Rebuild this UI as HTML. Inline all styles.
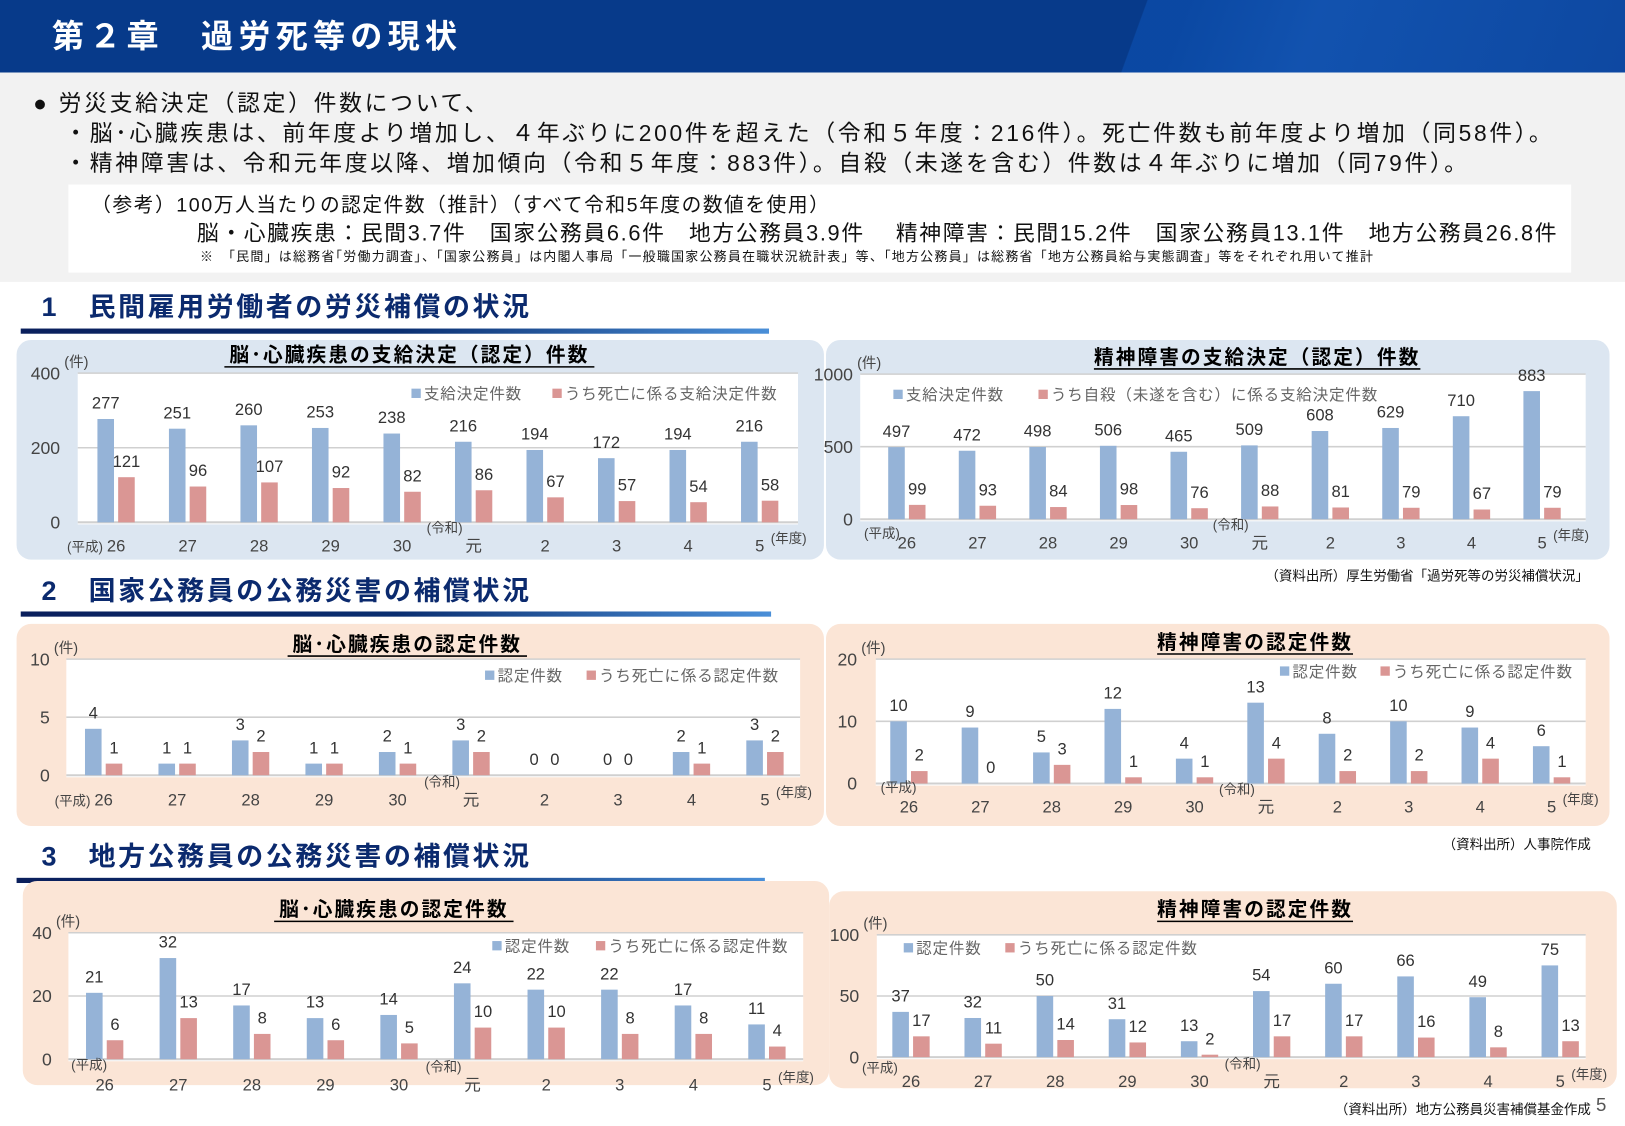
<!DOCTYPE html>
<html><head><meta charset="utf-8"><style>
html,body{margin:0;padding:0;width:1625px;height:1125px;overflow:hidden;background:#fff}
#w{position:absolute;left:0;top:0;width:1568px;height:1086px;transform:scale(1.0364,1.0364);transform-origin:0 0;font-family:"Liberation Sans","Noto Sans CJK JP",sans-serif}
.t{position:absolute;white-space:nowrap}
</style></head><body><div id="w">
<div style="position:absolute;left:0;top:0;width:1568px;height:70px;background:#073a8a"></div>
<div style="position:absolute;left:0;top:0;width:1568px;height:70px;background:linear-gradient(110deg,transparent 0,transparent 1040px,#0b4aa6 1041px,#0b4aa6 1080px,#1355b3 1200px,#0d47a0 1568px);opacity:0.9"></div>
<div class="t" style="left:50px;top:10px;font-size:31px;font-weight:bold;color:#fff;letter-spacing:5px">第２章　過労死等の現状</div>
<div style="position:absolute;left:0;top:70px;width:1568px;height:202px;background:#f2f2f2"></div>
<div class="t" style="left:32px;top:82px;font-size:22px;color:#111;letter-spacing:2.6px">●  労災支給決定（認定）件数について、</div>
<div class="t" style="left:62px;top:111px;font-size:22px;color:#111;letter-spacing:2.6px">・脳･心臓疾患は、前年度より増加し、４年ぶりに200件を超えた（令和５年度：216件）。死亡件数も前年度より増加（同58件）。</div>
<div class="t" style="left:62px;top:140px;font-size:22px;color:#111;letter-spacing:2.6px">・精神障害は、令和元年度以降、増加傾向（令和５年度：883件）。自殺（未遂を含む）件数は４年ぶりに増加（同79件）。</div>
<div style="position:absolute;left:66px;top:178px;width:1450px;height:85px;background:#fff"></div>
<div class="t" style="left:88px;top:183px;font-size:19px;color:#111;letter-spacing:1.5px">（参考）100万人当たりの認定件数（推計）（すべて令和5年度の数値を使用）</div>
<div class="t" style="left:190px;top:209px;font-size:21px;color:#111;letter-spacing:1.6px">脳・心臓疾患：民間3.7件　国家公務員6.6件　地方公務員3.9件　 精神障害：民間15.2件　国家公務員13.1件　地方公務員26.8件</div>
<div class="t" style="left:193px;top:237px;font-size:12.5px;color:#111;letter-spacing:1.2px">※　「民間」は総務省｢労働力調査｣、「国家公務員」は内閣人事局「一般職国家公務員在職状況統計表」等、「地方公務員」は総務省「地方公務員給与実態調査」等をそれぞれ用いて推計</div>
<div class="t" style="left:40px;top:276px;font-size:26px;font-weight:bold;color:#0b2a6e;letter-spacing:2.5px">1　民間雇用労働者の労災補償の状況</div>
<div style="position:absolute;left:20px;top:317px;width:722px;height:5px;background:linear-gradient(90deg,#0a1f5c,#0a2e70 50%,#4a8fd8)"></div>
<div class="t" style="left:40px;top:550px;font-size:26px;font-weight:bold;color:#0b2a6e;letter-spacing:2.5px">2　国家公務員の公務災害の補償状況</div>
<div style="position:absolute;left:20px;top:590px;width:724px;height:5px;background:linear-gradient(90deg,#0a1f5c,#0a2e70 50%,#4a8fd8)"></div>
<div class="t" style="left:40px;top:806px;font-size:26px;font-weight:bold;color:#0b2a6e;letter-spacing:2.5px">3　地方公務員の公務災害の補償状況</div>
<div style="position:absolute;left:16px;top:847px;width:722px;height:5px;background:linear-gradient(90deg,#0a1f5c,#0a2e70 50%,#4a8fd8)"></div>
<div class="t" style="right:35px;top:545px;font-size:13px;color:#111">（資料出所）厚生労働省「過労死等の労災補償状況」</div>
<div class="t" style="right:33px;top:804px;font-size:13px;color:#111">（資料出所）人事院作成</div>
<div class="t" style="right:33px;top:1060px;font-size:13px;color:#111">（資料出所）地方公務員災害補償基金作成</div>
<div class="t" style="left:1540px;top:1056px;font-size:18px;color:#555">5</div>
<svg id="s" width="1568" height="1086" style="position:absolute;left:0;top:0"></svg>
</div>
<script>
var s=document.getElementById('s'),h='';
function r(x,y,w,hh,f,rx){h+='<rect x="'+x+'" y="'+y+'" width="'+w+'" height="'+hh+'" fill="'+f+'" rx="'+(rx||0)+'"/>';}
function t(x,y,tx,sz,col,anc,bold,ls){h+='<text x="'+x+'" y="'+y+'" font-size="'+sz+'" fill="'+col+'" text-anchor="'+(anc||'middle')+'"'+(bold?' font-weight="bold"':'')+(ls?' letter-spacing="'+ls+'"':'')+' font-family="Liberation Sans, Noto Sans CJK JP, sans-serif">'+tx+'</text>';}
r(16,328,779,212,'#dce6f1',14);r(797,328,756,212,'#dce6f1',14);
r(16,602,779,195,'#fbe5d6',14);r(797,602,756,195,'#fbe5d6',14);
r(22,850,778,197,'#fbe5d6',14);r(800,860,760,190,'#fbe5d6',14);
var cats=['26','27','28','29','30','元','2','3','4','5'];
function ch(o){
 r(o.px0,o.ytop,o.px1-o.px0,o.y0-o.ytop+2,'#fff');
 o.ticks.forEach(function(v){var y=o.y0-(o.y0-o.ytop)*v/o.max;h+='<line x1="'+o.px0+'" x2="'+o.px1+'" y1="'+y+'" y2="'+y+'" stroke="#d0d0d0" stroke-width="'+(v==0?2:1.5)+'"/>';t(o.tx,y+6,v,17,'#444','end');});
 t(o.tx+4,o.ytop-6,'(件)',14,'#444','start');
 t(o.title[0],o.title[1],o.title[2],19,'#000','middle',true,2);
 var tw=o.title[2].length*21;h+='<line x1="'+(o.title[0]-tw/2)+'" x2="'+(o.title[0]+tw/2)+'" y1="'+(o.title[1]+5)+'" y2="'+(o.title[1]+5)+'" stroke="#000" stroke-width="1.5"/>';
 r(o.lg[0],o.lg[1]-10,9,9,'#95b3d7');t(o.lg[0]+12,o.lg[1],o.lg[2],15,'#666','start',false,0.8);
 r(o.lg[3],o.lg[1]-10,9,9,'#da9694');t(o.lg[3]+12,o.lg[1],o.lg[4],15,'#666','start',false,0.8);
 var k=(o.y0-o.ytop)/o.max;
 for(var i=0;i<10;i++){var c=o.c0+o.st*i,b=o.b[i],d=o.d[i];
  if(b>0)r(c-18,o.y0-b*k,16,b*k,'#95b3d7');if(d>0)r(c+2,o.y0-d*k,16,d*k,'#da9694');
  t(c-10,o.y0-b*k-10,b,16,'#333');t(c+10,o.y0-d*k-10,d,16,'#333');
  t(c,o.ly,cats[i],16,'#444');}
 t(o.c0-(o.pfx||30),o.ly-(o.pdy||0),'(平成)',13,'#444','middle');
 t(o.c0+o.st*5-28,o.ly-18,'(令和)',13,'#444','middle');
 t(o.c0+o.st*9+28,o.ly-8,'(年度)',13,'#444','middle');
}
ch({px0:75,px1:770,ytop:360,y0:504,max:400,ticks:[0,200,400],tx:58,c0:112,st:69,ly:532,title:[395,349,'脳･心臓疾患の支給決定（認定）件数'],lg:[397,385,'支給決定件数',533,'うち死亡に係る支給決定件数'],b:[277,251,260,253,238,216,194,172,194,216],d:[121,96,107,92,82,86,67,57,54,58]});
ch({px0:830,px1:1530,ytop:361,y0:501,max:1000,ticks:[0,500,1000],tx:823,c0:875,st:68.1,ly:529,pdy:10,pfx:24,title:[1213,351,'精神障害の支給決定（認定）件数'],lg:[862,386,'支給決定件数',1002,'うち自殺（未遂を含む）に係る支給決定件数'],b:[497,472,498,506,465,509,608,629,710,883],d:[99,93,84,98,76,88,81,79,67,79]});
ch({px0:64,px1:772,ytop:636,y0:748,max:10,ticks:[0,5,10],tx:48,c0:100,st:70.9,ly:777,title:[393,628,'脳･心臓疾患の認定件数'],lg:[468,657,'認定件数',566,'うち死亡に係る認定件数'],b:[4,1,3,1,2,3,0,0,2,3],d:[1,1,2,1,1,2,0,0,1,2]});
ch({px0:845,px1:1530,ytop:636,y0:756,max:20,ticks:[0,10,20],tx:827,c0:877,st:68.9,ly:784,pdy:20,pfx:10,title:[1211,626,'精神障害の認定件数'],lg:[1235,653,'認定件数',1332,'うち死亡に係る認定件数'],b:[10,9,5,12,4,13,8,10,9,6],d:[2,0,3,1,1,4,2,2,4,1]});
ch({px0:66,px1:775,ytop:900,y0:1022,max:40,ticks:[0,20,40],tx:50,c0:101,st:71,ly:1052,pdy:20,pfx:15,title:[380,884,'脳･心臓疾患の認定件数'],lg:[475,918,'認定件数',575,'うち死亡に係る認定件数'],b:[21,32,17,13,14,24,22,22,17,11],d:[6,13,8,6,5,10,10,8,8,4]});
ch({px0:846,px1:1530,ytop:902,y0:1020,max:100,ticks:[0,50,100],tx:829,c0:879,st:69.6,ly:1049,pdy:14,pfx:30,title:[1211,884,'精神障害の認定件数'],lg:[872,920,'認定件数',970,'うち死亡に係る認定件数'],b:[37,32,50,31,13,54,60,66,49,75],d:[17,11,14,12,2,17,17,16,8,13]});
s.innerHTML=h;
</script>
</body></html>
